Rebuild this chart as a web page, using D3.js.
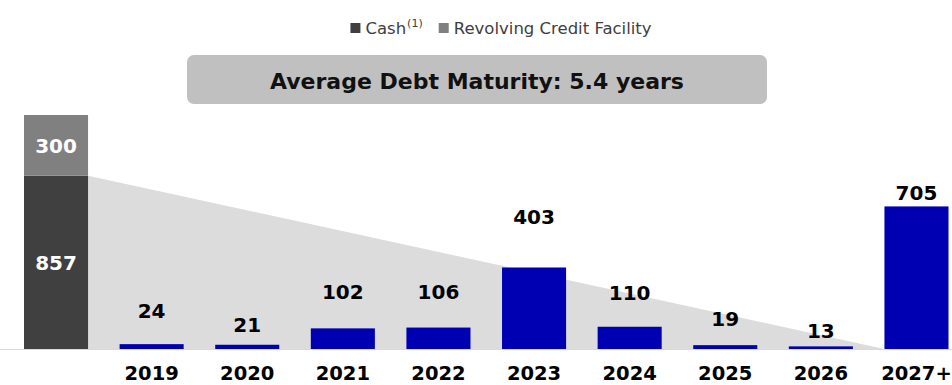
<!DOCTYPE html>
<html>
<head>
<meta charset="utf-8">
<script src="https://cdn.jsdelivr.net/npm/d3@7"></script>
<style>
  html, body { margin: 0; padding: 0; background: #ffffff; }
  svg { display: block; }
</style>
</head>
<body>
<svg id="chart" width="952" height="385"></svg>
<script>
// ---- data (USD millions) ----
const categories = ["Liquidity", "2019", "2020", "2021", "2022", "2023", "2024", "2025", "2026", "2027+"];
const cash = [857];
const revolver = [300];
const maturityYears = ["2019", "2020", "2021", "2022", "2023", "2024", "2025", "2026", "2027+"];
const maturities = [24, 21, 102, 106, 403, 110, 19, 13, 705];
const averageMaturity = 5.4;
const legendItems = ["Cash", "Revolving Credit Facility"];

// ---- layout ----
const W = 952, H = 385;
const baseline = 349;
const colors = { cash: "#404040", revolver: "#808080", debt: "#0000b3", wedge: "#dcdcdc", box: "#c0c0c0" };
const boldFont = "'DejaVu Sans', Verdana, sans-serif";
// vertical lift of each maturity label above its bar (px)
const labelLift = [26, 13, 29, 29, 43, 27, 19, 8, 6];

const svg = d3.select("#chart");

const x = d3.scaleBand()
  .domain(categories)
  .range([24, 948.5])
  .paddingInner(0.33)
  .paddingOuter(0);

const y = d3.scaleLinear()
  .domain([0, cash[0] + revolver[0]])
  .range([baseline, 115]);

// declining wedge from the liquidity total down to the last maturity bucket
const liqRight = x("Liquidity") + x.bandwidth();
const lastLeft = x(maturityYears[maturityYears.length - 1]);
svg.append("path")
  .attr("d", d3.line()([[liqRight, y(cash[0])], [lastLeft, y(0)], [liqRight, y(0)]]) + "Z")
  .attr("fill", colors.wedge);

// baseline
svg.append("line")
  .attr("x1", 0).attr("x2", W)
  .attr("y1", baseline + 0.5).attr("y2", baseline + 0.5)
  .attr("stroke", "#d9d9d9").attr("stroke-width", 1);

// liquidity stack
const stack = [
  { key: "cash", y0: 0, y1: cash[0], value: cash[0] },
  { key: "revolver", y0: cash[0], y1: cash[0] + revolver[0], value: revolver[0] }
];
const liq = svg.append("g");
liq.selectAll("rect").data(stack).join("rect")
  .attr("x", x("Liquidity"))
  .attr("width", x.bandwidth())
  .attr("y", d => y(d.y1))
  .attr("height", d => y(d.y0) - y(d.y1))
  .attr("fill", d => colors[d.key]);
liq.selectAll("text").data(stack).join("text")
  .attr("x", x("Liquidity") + x.bandwidth() / 2)
  .attr("y", d => (y(d.y0) + y(d.y1)) / 2)
  .attr("dy", "0.36em")
  .attr("text-anchor", "middle")
  .attr("font-family", boldFont)
  .attr("font-weight", "bold")
  .attr("font-size", 20)
  .attr("fill", "#ffffff")
  .text(d => d.value);

// debt maturities
const rows = maturityYears.map((k, i) => ({ year: k, value: maturities[i], lift: labelLift[i] }));
const bars = svg.append("g");
bars.selectAll("rect").data(rows).join("rect")
  .attr("x", d => x(d.year))
  .attr("width", x.bandwidth())
  .attr("y", d => y(d.value))
  .attr("height", d => y(0) - y(d.value))
  .attr("fill", colors.debt);
bars.selectAll("text").data(rows).join("text")
  .attr("x", d => x(d.year) + x.bandwidth() / 2)
  .attr("y", d => y(d.value) - d.lift)
  .attr("text-anchor", "middle")
  .attr("font-family", boldFont)
  .attr("font-weight", "bold")
  .attr("font-size", 20)
  .attr("fill", "#000000")
  .text(d => d.value);

// year axis
const axis = svg.append("g")
  .attr("transform", `translate(0,${baseline})`)
  .call(d3.axisBottom(x).tickSize(0).tickPadding(0).tickFormat(d => d === "Liquidity" ? "" : d));
axis.select(".domain").remove();
axis.selectAll("text")
  .attr("y", 31)
  .attr("dy", 0)
  .attr("font-family", boldFont)
  .attr("font-weight", "bold")
  .attr("font-size", 19.5)
  .attr("fill", "#000000");

// average maturity banner
svg.append("rect")
  .attr("x", 187).attr("y", 55)
  .attr("width", 580).attr("height", 49)
  .attr("rx", 7).attr("ry", 7)
  .attr("fill", colors.box);
svg.append("text")
  .attr("x", 477).attr("y", 89)
  .attr("text-anchor", "middle")
  .attr("font-family", boldFont)
  .attr("font-weight", "bold")
  .attr("font-size", 22)
  .attr("fill", "#111111")
  .text(`Average Debt Maturity: ${averageMaturity} years`);

// legend
const legend = svg.append("g");
const legFont = "'DejaVu Sans', sans-serif";
let cx = 0;
const legColors = [colors.cash, colors.revolver];
legendItems.forEach((label, i) => {
  legend.append("rect")
    .attr("x", cx).attr("y", 23)
    .attr("width", 10).attr("height", 10)
    .attr("fill", legColors[i]);
  cx += 15;
  const t = legend.append("text")
    .attr("x", cx).attr("y", 34)
    .attr("font-family", legFont)
    .attr("font-size", 16.5)
    .attr("fill", "#404040")
    .text(label);
  cx += t.node().getComputedTextLength();
  if (i === 0) {
    const s = legend.append("text")
      .attr("x", cx + 1).attr("y", 27)
      .attr("font-family", legFont)
      .attr("font-size", 11)
      .attr("fill", "#404040")
      .text("(1)");
    cx += s.node().getComputedTextLength() + 1;
  }
  cx += 16;
});
const legWidth = cx - 16;
legend.attr("transform", `translate(${501 - legWidth / 2},0)`);
</script>
</body>
</html>
